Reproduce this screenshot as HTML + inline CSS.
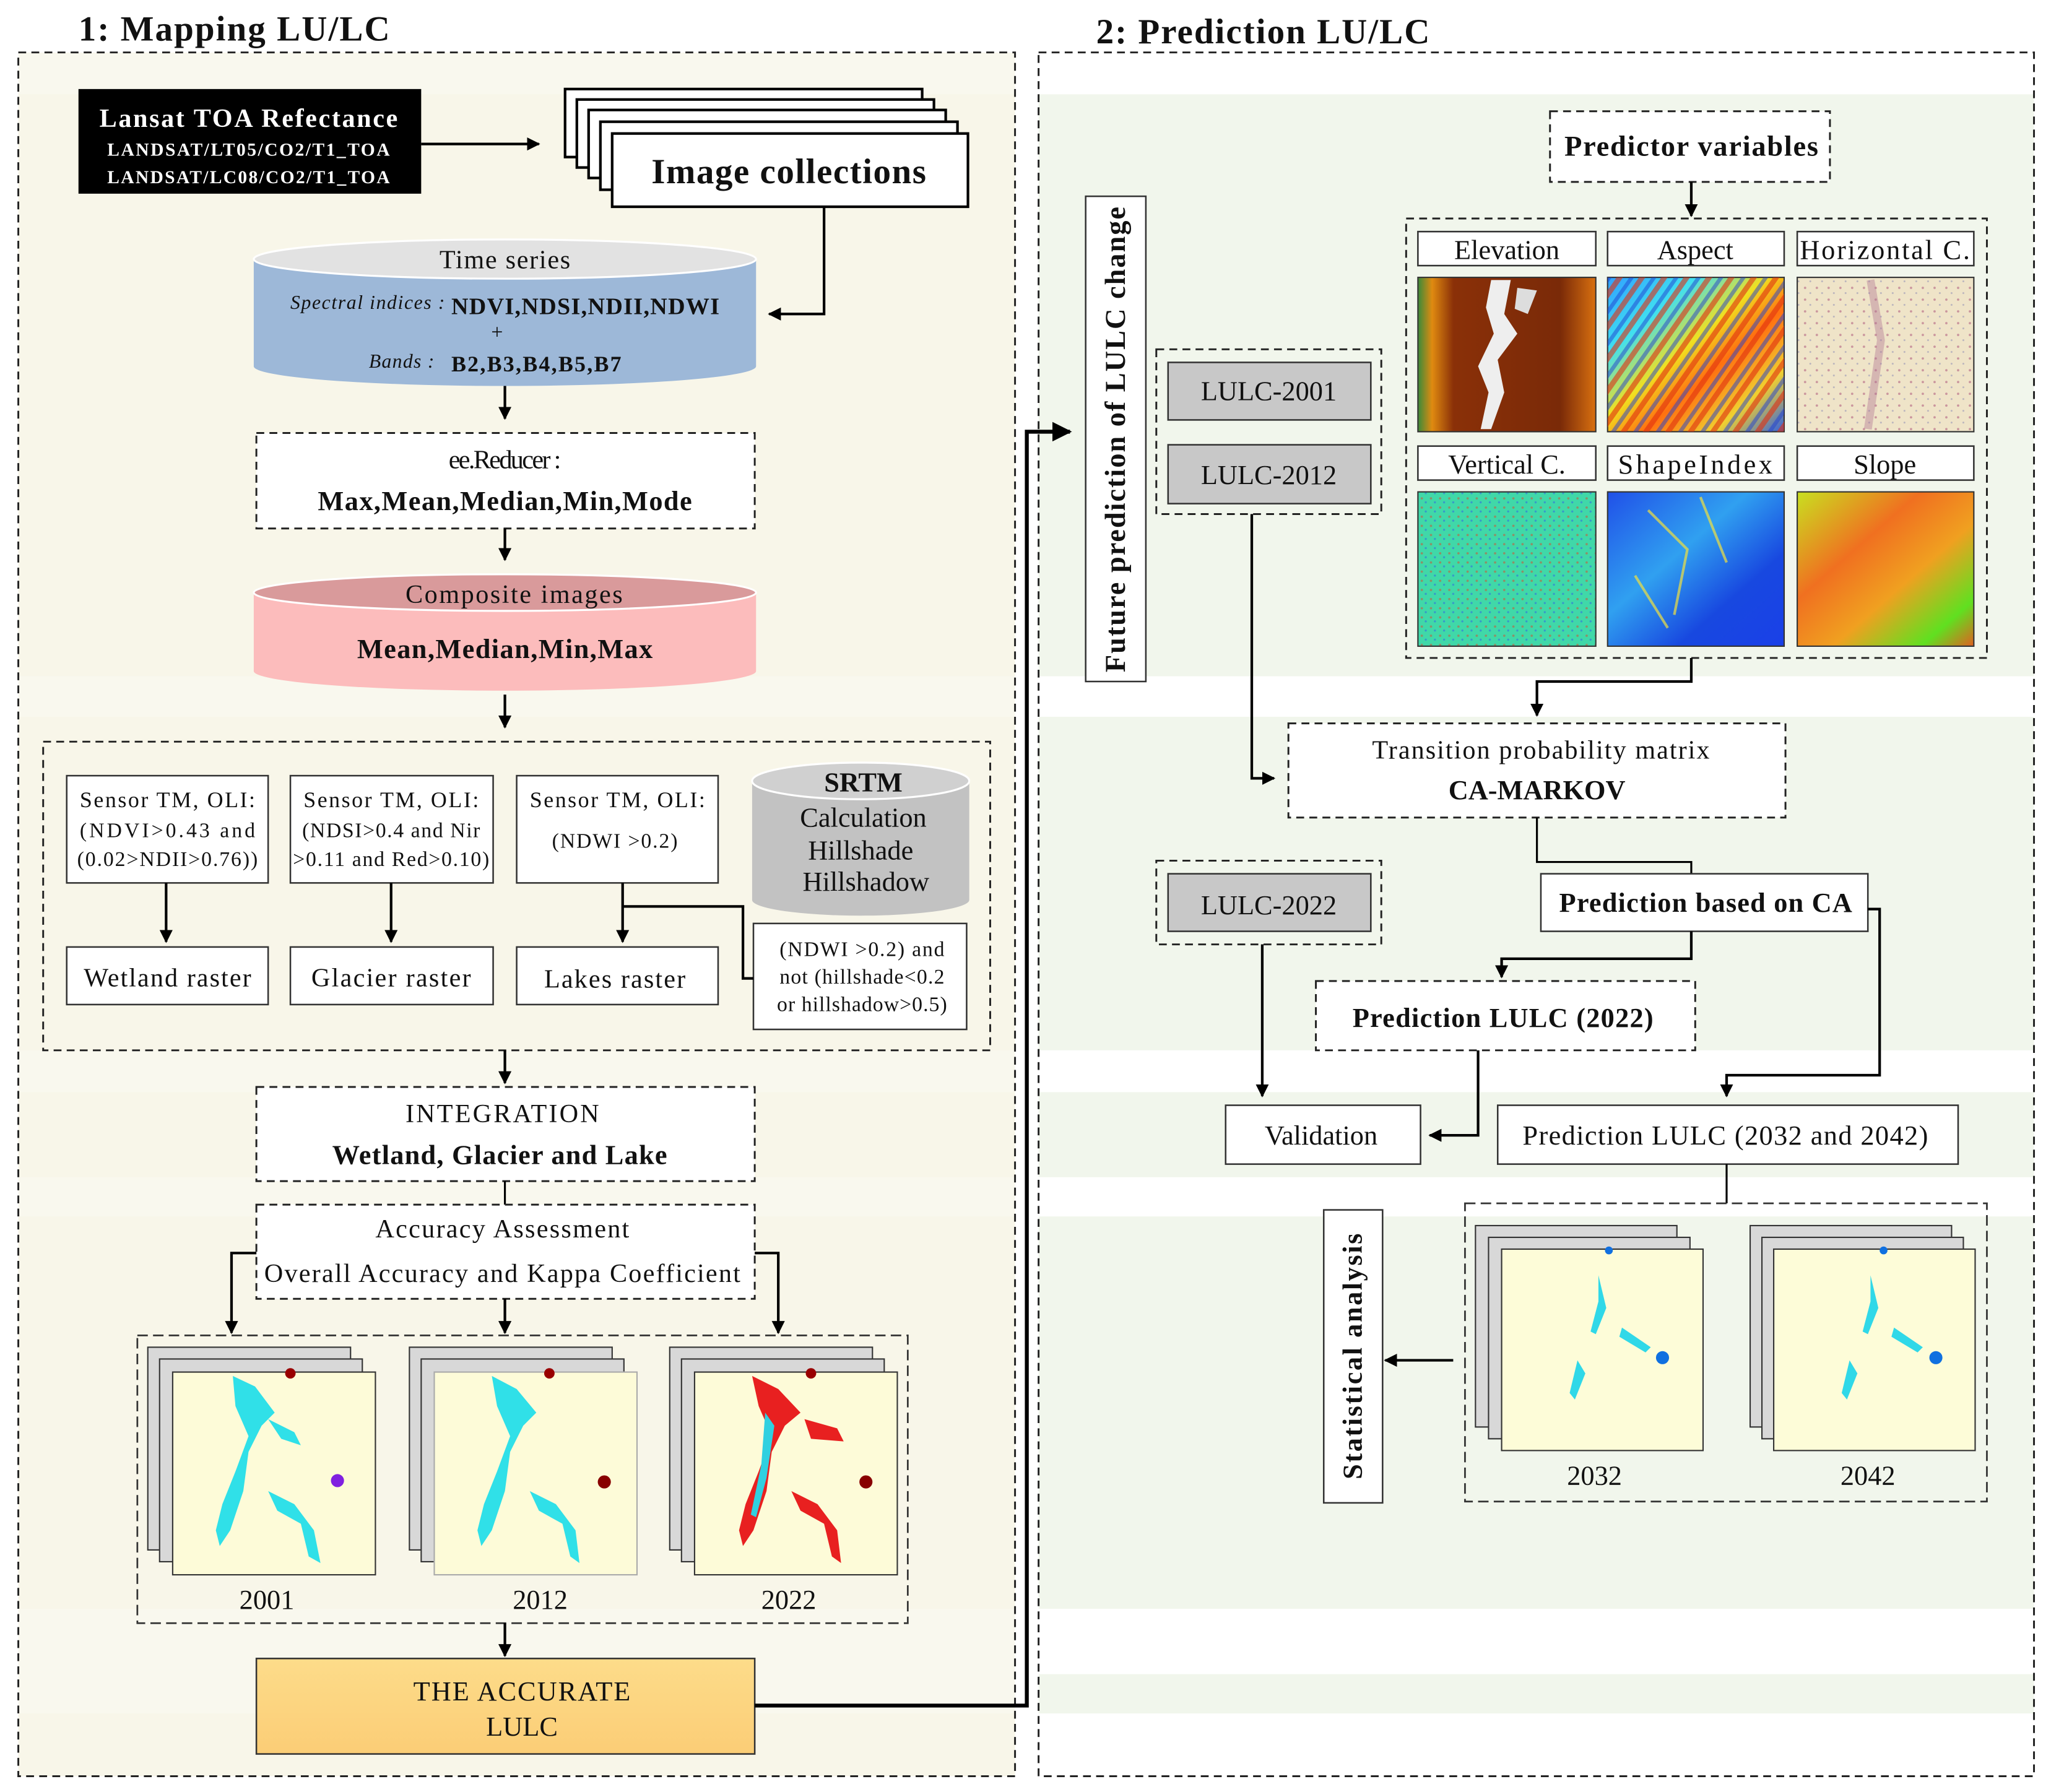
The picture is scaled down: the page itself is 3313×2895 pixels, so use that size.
<!DOCTYPE html>
<html><head><meta charset="utf-8"><style>
html,body{margin:0;padding:0;background:#fff}
svg{display:block}
text{font-family:"Liberation Serif",serif;fill:#111}
.b{font-weight:bold}
</style></head><body>
<svg width="3313" height="2895" viewBox="0 0 1568 1370" xmlns="http://www.w3.org/2000/svg">
<defs>
<marker id="ar" viewBox="0 0 10 10" refX="9" refY="5" markerWidth="5" markerHeight="5" orient="auto"><path d="M0,0L10,5L0,10z" fill="#000"/></marker>
<linearGradient id="org" x1="0" y1="0" x2="0" y2="1"><stop offset="0" stop-color="#fddc8a"/><stop offset="1" stop-color="#fbcd76"/></linearGradient>
<linearGradient id="elev" x1="0" y1="0" x2="1" y2="0"><stop offset="0" stop-color="#3a8a3a"/><stop offset="0.08" stop-color="#e08a10"/><stop offset="0.2" stop-color="#8a3008"/><stop offset="0.8" stop-color="#7a2a08"/><stop offset="1" stop-color="#d87010"/></linearGradient>
<linearGradient id="asp" x1="0" y1="0" x2="1" y2="1"><stop offset="0" stop-color="#30a0ff"/><stop offset="0.25" stop-color="#40e0f0"/><stop offset="0.45" stop-color="#f0e020"/><stop offset="0.6" stop-color="#ff7010"/><stop offset="0.8" stop-color="#f0d030"/><stop offset="1" stop-color="#3060e0"/></linearGradient>
<pattern id="stripes" width="14" height="14" patternUnits="userSpaceOnUse" patternTransform="rotate(35)"><rect width="14" height="14" fill="none"/><rect width="4" height="14" fill="#e03010" opacity="0.6"/><rect x="8" width="3" height="14" fill="#2040d0" opacity="0.5"/></pattern>
<pattern id="specks" width="9" height="9" patternUnits="userSpaceOnUse"><rect width="9" height="9" fill="#efe4c8"/><circle cx="3" cy="4" r="0.9" fill="#b06080" opacity="0.6"/><circle cx="7" cy="8" r="0.7" fill="#8080b0" opacity="0.5"/></pattern>
<pattern id="vspecks" width="7" height="7" patternUnits="userSpaceOnUse"><rect width="7" height="7" fill="#40d8a8"/><circle cx="2" cy="3" r="0.9" fill="#c06040" opacity="0.6"/><circle cx="5" cy="6" r="0.8" fill="#3070e0" opacity="0.6"/></pattern>
<linearGradient id="shp" x1="0" y1="0" x2="1" y2="1"><stop offset="0" stop-color="#2050e8"/><stop offset="0.4" stop-color="#30a0f0"/><stop offset="0.7" stop-color="#1848e0"/><stop offset="1" stop-color="#1a40e8"/></linearGradient>
<linearGradient id="slp" x1="0" y1="0" x2="1" y2="1"><stop offset="0" stop-color="#c8e020"/><stop offset="0.35" stop-color="#f07020"/><stop offset="0.6" stop-color="#f0a020"/><stop offset="0.85" stop-color="#60e020"/><stop offset="1" stop-color="#e06020"/></linearGradient>
</defs>

<text x="60" y="31" font-size="27" class="b" textLength="238">1: Mapping LU/LC</text>
<text x="838" y="33" font-size="27" class="b" textLength="255">2: Prediction LU/LC</text>

<rect x="14" y="40" width="762" height="1318" fill="#f9f8ee"/>
<rect x="14" y="72" width="762" height="445" fill="#f8f6e9"/>
<rect x="14" y="548" width="762" height="255" fill="#f8f6e9"/>
<rect x="14" y="835" width="762" height="65" fill="#f8f6e9"/>
<rect x="14" y="930" width="762" height="300" fill="#f8f6e9"/>
<rect x="14" y="1310" width="762" height="48" fill="#f8f6e9"/>
<rect x="14" y="40" width="762" height="1318" fill="none" stroke="#222" stroke-width="1.4" stroke-dasharray="6,4"/>

<rect x="794" y="40" width="761" height="1318" fill="#fff"/>
<rect x="794" y="72" width="761" height="445" fill="#f1f6ec"/>
<rect x="794" y="548" width="761" height="255" fill="#f1f6ec"/>
<rect x="794" y="835" width="761" height="65" fill="#f1f6ec"/>
<rect x="794" y="930" width="761" height="300" fill="#f1f6ec"/>
<rect x="794" y="1280" width="761" height="30" fill="#f1f6ec"/>
<rect x="794" y="40" width="761" height="1318" fill="none" stroke="#222" stroke-width="1.4" stroke-dasharray="6,4"/>

<rect x="60" y="68" width="262" height="80" fill="#000"/>
<text x="190" y="97" font-size="20" class="b" text-anchor="middle" style="fill:#fff" textLength="228">Lansat TOA Refectance</text>
<text x="190" y="119" font-size="14" class="b" text-anchor="middle" style="fill:#fff" textLength="216">LANDSAT/LT05/CO2/T1_TOA</text>
<text x="190" y="140" font-size="14" class="b" text-anchor="middle" style="fill:#fff" textLength="216">LANDSAT/LC08/CO2/T1_TOA</text>
<line x1="322" y1="110" x2="412" y2="110" stroke="#000" stroke-width="2" marker-end="url(#ar)"/>

<g fill="#fff" stroke="#000" stroke-width="2">
<rect x="432" y="68" width="273" height="52"/>
<rect x="441" y="76" width="273" height="52"/>
<rect x="450" y="84" width="273" height="52"/>
<rect x="459" y="93" width="273" height="52"/>
<rect x="468" y="102" width="272" height="56"/>
</g>
<text x="603" y="140" font-size="27" class="b" text-anchor="middle" textLength="210">Image collections</text>
<polyline points="630,158 630,240 588,240" fill="none" stroke="#000" stroke-width="2" marker-end="url(#ar)"/>

<path d="M194,198 L194,280 A192,15 0 0 0 578,280 L578,198 Z" fill="#9db8d8"/>
<ellipse cx="386" cy="198" rx="192" ry="15" fill="#e2e2e2" stroke="#fff" stroke-width="1.5"/>
<text x="386" y="205" font-size="20" text-anchor="middle" textLength="100">Time series</text>
<text x="222" y="236" font-size="15" font-style="italic" textLength="118">Spectral indices :</text>
<text x="345" y="240" font-size="18" class="b" textLength="205">NDVI,NDSI,NDII,NDWI</text>
<text x="380" y="259" font-size="16" text-anchor="middle">+</text>
<text x="282" y="281" font-size="15" font-style="italic" textLength="50">Bands :</text>
<text x="345" y="284" font-size="17" class="b" textLength="130">B2,B3,B4,B5,B7</text>
<line x1="386" y1="295" x2="386" y2="320" stroke="#000" stroke-width="2" marker-end="url(#ar)"/>

<rect x="196" y="331" width="381" height="73" fill="#fff" stroke="#222" stroke-width="1.4" stroke-dasharray="6,4"/>
<text x="386" y="358" font-size="20" text-anchor="middle" textLength="86">ee.Reducer :</text>
<text x="386" y="390" font-size="21" class="b" text-anchor="middle" textLength="286">Max,Mean,Median,Min,Mode</text>
<line x1="386" y1="404" x2="386" y2="428" stroke="#000" stroke-width="2" marker-end="url(#ar)"/>

<path d="M194,453 L194,513 A192,15 0 0 0 578,513 L578,453 Z" fill="#fcbcbc"/>
<ellipse cx="386" cy="453" rx="192" ry="14" fill="#d99a9b" stroke="#fff" stroke-width="1.5"/>
<text x="393" y="461" font-size="20" text-anchor="middle" textLength="166">Composite images</text>
<text x="386" y="503" font-size="21" class="b" text-anchor="middle" textLength="226">Mean,Median,Min,Max</text>
<line x1="386" y1="531" x2="386" y2="556" stroke="#000" stroke-width="2" marker-end="url(#ar)"/>

<rect x="33" y="567" width="724" height="236" fill="none" stroke="#222" stroke-width="1.4" stroke-dasharray="6,4"/>
<g fill="#fff" stroke="#333" stroke-width="1.2">
<rect x="51" y="593" width="154" height="82"/>
<rect x="222" y="593" width="155" height="82"/>
<rect x="395" y="593" width="154" height="82"/>
<rect x="51" y="724" width="154" height="44"/>
<rect x="222" y="724" width="155" height="44"/>
<rect x="395" y="724" width="154" height="44"/>
<rect x="576" y="706" width="163" height="81"/>
</g>
<text x="128" y="617" font-size="17" text-anchor="middle" textLength="134">Sensor TM, OLI:</text>
<text x="128" y="640" font-size="16" text-anchor="middle" textLength="134">(NDVI&gt;0.43 and</text>
<text x="128" y="662" font-size="16" text-anchor="middle" textLength="138">(0.02&gt;NDII&gt;0.76))</text>
<text x="299" y="617" font-size="17" text-anchor="middle" textLength="134">Sensor TM, OLI:</text>
<text x="299" y="640" font-size="16" text-anchor="middle" textLength="136">(NDSI&gt;0.4 and Nir</text>
<text x="299" y="662" font-size="16" text-anchor="middle" textLength="150">&gt;0.11 and Red&gt;0.10)</text>
<text x="472" y="617" font-size="17" text-anchor="middle" textLength="134">Sensor TM, OLI:</text>
<text x="470" y="648" font-size="16" text-anchor="middle" textLength="96">(NDWI &gt;0.2)</text>
<path d="M575,597 L575,688 A83,12 0 0 0 741,688 L741,597 Z" fill="#c2c2c2"/>
<ellipse cx="658" cy="597" rx="83" ry="14" fill="#d0d0d0" stroke="#fff" stroke-width="1.5"/>
<text x="660" y="605" font-size="21" class="b" text-anchor="middle">SRTM</text>
<text x="660" y="632" font-size="21" text-anchor="middle">Calculation</text>
<text x="658" y="657" font-size="21" text-anchor="middle">Hillshade</text>
<text x="662" y="681" font-size="21" text-anchor="middle">Hillshadow</text>
<g stroke="#000" stroke-width="2" fill="none">
<line x1="127" y1="675" x2="127" y2="720" marker-end="url(#ar)"/>
<line x1="299" y1="675" x2="299" y2="720" marker-end="url(#ar)"/>
<line x1="476" y1="675" x2="476" y2="720" marker-end="url(#ar)"/>
<polyline points="476,693 568,693 568,748 576,748"/>
</g>
<text x="128" y="754" font-size="20" text-anchor="middle" textLength="128">Wetland raster</text>
<text x="299" y="754" font-size="20" text-anchor="middle" textLength="122">Glacier raster</text>
<text x="470" y="755" font-size="20" text-anchor="middle" textLength="108">Lakes raster</text>
<text x="659" y="731" font-size="16" text-anchor="middle" textLength="126">(NDWI &gt;0.2) and</text>
<text x="659" y="752" font-size="16" text-anchor="middle" textLength="126">not (hillshade&lt;0.2</text>
<text x="659" y="773" font-size="16" text-anchor="middle" textLength="130">or hillshadow&gt;0.5)</text>
<line x1="386" y1="803" x2="386" y2="828" stroke="#000" stroke-width="2" marker-end="url(#ar)"/>

<rect x="196" y="831" width="381" height="72" fill="#fff" stroke="#222" stroke-width="1.4" stroke-dasharray="6,4"/>
<text x="384" y="858" font-size="20" text-anchor="middle" textLength="148">INTEGRATION</text>
<text x="382" y="890" font-size="21" class="b" text-anchor="middle" textLength="256">Wetland, Glacier and Lake</text>
<line x1="386" y1="903" x2="386" y2="921" stroke="#000" stroke-width="1.5"/>
<rect x="196" y="921" width="381" height="72" fill="#fff" stroke="#222" stroke-width="1.4" stroke-dasharray="6,4"/>
<text x="384" y="946" font-size="20" text-anchor="middle" textLength="194">Accuracy Assessment</text>
<text x="384" y="980" font-size="20" text-anchor="middle" textLength="364">Overall Accuracy and Kappa Coefficient</text>
<g stroke="#000" stroke-width="2" fill="none">
<polyline points="196,958 177,958 177,1019" marker-end="url(#ar)"/>
<line x1="386" y1="993" x2="386" y2="1019" marker-end="url(#ar)"/>
<polyline points="577,958 595,958 595,1019" marker-end="url(#ar)"/>
</g>

<rect x="105" y="1021" width="589" height="220" fill="none" stroke="#333" stroke-width="1.3" stroke-dasharray="8,4"/>
<g stroke="#333" stroke-width="1">
<rect x="113" y="1030" width="155" height="155" fill="#d8d8d8"/>
<rect x="122" y="1039" width="155" height="155" fill="#d8d8d8"/>
<rect x="132" y="1049" width="155" height="155" fill="#fdfbd8"/>
<rect x="313" y="1030" width="155" height="155" fill="#d8d8d8"/>
<rect x="322" y="1039" width="155" height="155" fill="#d8d8d8"/>
<rect x="332" y="1049" width="155" height="155" fill="#fdfbd8" stroke="#aaa"/>
<rect x="512" y="1030" width="155" height="155" fill="#d8d8d8"/>
<rect x="521" y="1039" width="155" height="155" fill="#d8d8d8"/>
<rect x="531" y="1049" width="155" height="155" fill="#fdfbd8"/>
</g>
<g stroke="none">
<path d="M178,1052 L195,1060 L210,1080 L200,1090 L190,1110 L186,1140 L176,1170 L168,1182 L165,1170 L170,1150 L180,1125 L190,1098 L180,1075 Z" fill="#30e0e8"/>
<path d="M205,1085 L225,1095 L230,1105 L215,1100 Z" fill="#30e0e8"/>
<path d="M205,1140 L225,1150 L240,1170 L245,1195 L236,1190 L230,1165 L212,1155 Z" fill="#30e0e8"/>
<circle cx="258" cy="1132" r="5" fill="#8020e0"/><circle cx="222" cy="1050" r="4" fill="#900"/>
<path d="M376,1052 L395,1062 L410,1080 L400,1090 L390,1110 L386,1140 L376,1170 L368,1182 L365,1170 L370,1150 L380,1125 L390,1098 L380,1075 Z" fill="#30e0e8"/>
<path d="M405,1140 L425,1150 L440,1170 L443,1195 L436,1190 L430,1165 L412,1155 Z" fill="#30e0e8"/>
<circle cx="462" cy="1133" r="5" fill="#800"/><circle cx="420" cy="1050" r="4" fill="#900"/>
<path d="M575,1052 L595,1062 L612,1080 L600,1090 L590,1110 L586,1140 L576,1170 L568,1182 L565,1170 L570,1150 L580,1125 L590,1098 L580,1075 Z" fill="#e82020"/>
<path d="M615,1085 L640,1092 L645,1102 L620,1100 Z" fill="#e82020"/>
<path d="M585,1080 L592,1090 L586,1130 L578,1160 L574,1158 L582,1120 Z" fill="#30d0e0"/>
<path d="M605,1140 L625,1150 L640,1170 L643,1195 L636,1190 L630,1165 L612,1155 Z" fill="#e82020"/>
<circle cx="662" cy="1133" r="5" fill="#800"/><circle cx="620" cy="1050" r="4" fill="#900"/>
</g>
<text x="204" y="1230" font-size="21" text-anchor="middle">2001</text>
<text x="413" y="1230" font-size="21" text-anchor="middle">2012</text>
<text x="603" y="1230" font-size="21" text-anchor="middle">2022</text>
<line x1="386" y1="1241" x2="386" y2="1266" stroke="#000" stroke-width="2" marker-end="url(#ar)"/>

<rect x="196" y="1268" width="381" height="73" fill="url(#org)" stroke="#333" stroke-width="1.2"/>
<text x="399" y="1300" font-size="21" text-anchor="middle" textLength="166">THE ACCURATE</text>
<text x="399" y="1327" font-size="21" text-anchor="middle">LULC</text>
<polyline points="577,1304 785,1304 785,330 818,330" fill="none" stroke="#000" stroke-width="3" marker-end="url(#ar)"/>

<rect x="830" y="150" width="46" height="371" fill="#fff" stroke="#333" stroke-width="1.2"/>
<text transform="translate(860,336) rotate(-90)" font-size="22" class="b" text-anchor="middle" textLength="356">Future prediction of LULC change</text>

<rect x="1185" y="85" width="214" height="54" fill="#fff" stroke="#222" stroke-width="1.4" stroke-dasharray="6,4"/>
<text x="1293" y="119" font-size="22" class="b" text-anchor="middle" textLength="194">Predictor variables</text>
<line x1="1293" y1="139" x2="1293" y2="165" stroke="#000" stroke-width="2" marker-end="url(#ar)"/>
<rect x="1075" y="167" width="444" height="336" fill="none" stroke="#222" stroke-width="1.4" stroke-dasharray="6,4"/>
<g fill="#fff" stroke="#333" stroke-width="1.2">
<rect x="1084" y="177" width="136" height="26"/><rect x="1229" y="177" width="135" height="26"/><rect x="1374" y="177" width="135" height="26"/>
<rect x="1084" y="341" width="136" height="26"/><rect x="1229" y="341" width="135" height="26"/><rect x="1374" y="341" width="135" height="26"/>
</g>
<text x="1152" y="198" font-size="21" text-anchor="middle">Elevation</text>
<text x="1296" y="198" font-size="21" text-anchor="middle">Aspect</text>
<text x="1441" y="198" font-size="21" text-anchor="middle" textLength="130">Horizontal C.</text>
<text x="1152" y="362" font-size="21" text-anchor="middle">Vertical C.</text>
<text x="1296" y="362" font-size="21" text-anchor="middle" textLength="118">ShapeIndex</text>
<text x="1441" y="362" font-size="21" text-anchor="middle">Slope</text>
<rect x="1084" y="212" width="136" height="118" fill="url(#elev)" stroke="#333"/>
<path d="M1140,214 L1155,214 L1150,240 L1160,255 L1145,275 L1150,300 L1140,328 L1132,328 L1138,300 L1130,280 L1142,255 L1136,235 Z" fill="#eee"/>
<path d="M1160,220 L1175,222 L1168,240 L1158,236 Z" fill="#ddd"/>
<rect x="1229" y="212" width="135" height="118" fill="url(#asp)" stroke="#333"/>
<rect x="1229" y="212" width="135" height="118" fill="url(#stripes)"/>
<rect x="1374" y="212" width="135" height="118" fill="url(#specks)" stroke="#333"/>
<path d="M1430,214 L1438,260 L1428,328" stroke="#b07090" stroke-width="6" fill="none" opacity="0.4"/>
<rect x="1084" y="376" width="136" height="118" fill="url(#vspecks)" stroke="#333"/>
<rect x="1229" y="376" width="135" height="118" fill="url(#shp)" stroke="#333"/>
<path d="M1260,390 L1290,420 L1280,470 M1300,380 L1320,430 M1250,440 L1275,480" stroke="#f0e040" stroke-width="2" fill="none" opacity="0.7"/>
<rect x="1374" y="376" width="135" height="118" fill="url(#slp)" stroke="#333"/>

<rect x="884" y="267" width="172" height="126" fill="none" stroke="#222" stroke-width="1.4" stroke-dasharray="6,4"/>
<rect x="893" y="277" width="155" height="44" fill="#c8c8c8" stroke="#333" stroke-width="1.2"/>
<rect x="893" y="340" width="155" height="45" fill="#c8c8c8" stroke="#333" stroke-width="1.2"/>
<text x="970" y="306" font-size="21" text-anchor="middle">LULC-2001</text>
<text x="970" y="370" font-size="21" text-anchor="middle">LULC-2012</text>
<polyline points="957,393 957,595 974,595" fill="none" stroke="#000" stroke-width="2" marker-end="url(#ar)"/>
<polyline points="1293,503 1293,521 1175,521 1175,547" fill="none" stroke="#000" stroke-width="2" marker-end="url(#ar)"/>

<rect x="985" y="553" width="380" height="72" fill="#fff" stroke="#222" stroke-width="1.4" stroke-dasharray="6,4"/>
<text x="1178" y="580" font-size="20" text-anchor="middle" textLength="258">Transition probability matrix</text>
<text x="1175" y="611" font-size="21" class="b" text-anchor="middle">CA-MARKOV</text>
<polyline points="1175,625 1175,659 1293,659 1293,668" fill="none" stroke="#000" stroke-width="1.5"/>
<rect x="1178" y="668" width="250" height="44" fill="#fff" stroke="#333" stroke-width="1.2"/>
<text x="1304" y="697" font-size="21" class="b" text-anchor="middle" textLength="224">Prediction based on CA</text>
<polyline points="1293,712 1293,733 1148,733 1148,747" fill="none" stroke="#000" stroke-width="2" marker-end="url(#ar)"/>
<polyline points="1428,695 1437,695 1437,822 1320,822 1320,838" fill="none" stroke="#000" stroke-width="2" marker-end="url(#ar)"/>

<rect x="884" y="658" width="172" height="64" fill="none" stroke="#222" stroke-width="1.4" stroke-dasharray="6,4"/>
<rect x="893" y="668" width="155" height="44" fill="#c8c8c8" stroke="#333" stroke-width="1.2"/>
<text x="970" y="699" font-size="21" text-anchor="middle">LULC-2022</text>
<line x1="965" y1="722" x2="965" y2="838" stroke="#000" stroke-width="2" marker-end="url(#ar)"/>

<rect x="1006" y="750" width="290" height="53" fill="#fff" stroke="#222" stroke-width="1.4" stroke-dasharray="6,4"/>
<text x="1149" y="785" font-size="21" class="b" text-anchor="middle" textLength="230">Prediction LULC (2022)</text>
<polyline points="1130,803 1130,868 1093,868" fill="none" stroke="#000" stroke-width="2" marker-end="url(#ar)"/>

<rect x="937" y="845" width="149" height="45" fill="#fff" stroke="#333" stroke-width="1.2"/>
<text x="1010" y="875" font-size="21" text-anchor="middle">Validation</text>
<rect x="1145" y="845" width="352" height="45" fill="#fff" stroke="#333" stroke-width="1.2"/>
<text x="1319" y="875" font-size="21" text-anchor="middle" textLength="310">Prediction LULC (2032 and 2042)</text>
<line x1="1320" y1="890" x2="1320" y2="920" stroke="#000" stroke-width="1.5"/>

<rect x="1120" y="920" width="399" height="228" fill="none" stroke="#333" stroke-width="1.3" stroke-dasharray="8,4"/>
<g stroke="#333" stroke-width="1">
<rect x="1128" y="937" width="154" height="154" fill="#d8d8d8"/>
<rect x="1138" y="946" width="154" height="154" fill="#d8d8d8"/>
<rect x="1148" y="955" width="154" height="154" fill="#fdfcd8"/>
<rect x="1338" y="937" width="154" height="154" fill="#d8d8d8"/>
<rect x="1347" y="946" width="154" height="154" fill="#d8d8d8"/>
<rect x="1356" y="955" width="154" height="154" fill="#fdfcd8"/>
</g>
<g fill="#30d8e8">
<path d="M1222,975 L1228,1000 L1220,1020 L1216,1018 L1222,995 Z"/>
<path d="M1206,1040 L1212,1050 L1204,1070 L1200,1065 Z"/>
<path d="M1240,1015 L1262,1030 L1258,1034 L1238,1022 Z"/>
<path d="M1430,975 L1436,1000 L1428,1020 L1424,1018 L1430,995 Z"/>
<path d="M1414,1040 L1420,1050 L1412,1070 L1408,1065 Z"/>
<path d="M1448,1015 L1470,1030 L1466,1034 L1446,1022 Z"/>
</g>
<circle cx="1271" cy="1038" r="5" fill="#1070e0"/><circle cx="1230" cy="956" r="3" fill="#1070e0"/>
<circle cx="1480" cy="1038" r="5" fill="#1070e0"/><circle cx="1440" cy="956" r="3" fill="#1070e0"/>
<text x="1219" y="1135" font-size="21" text-anchor="middle">2032</text>
<text x="1428" y="1135" font-size="21" text-anchor="middle">2042</text>
<line x1="1111" y1="1040" x2="1059" y2="1040" stroke="#000" stroke-width="2" marker-end="url(#ar)"/>
<rect x="1012" y="925" width="45" height="224" fill="#fff" stroke="#333" stroke-width="1.2"/>
<text transform="translate(1041,1037) rotate(-90)" font-size="21" class="b" text-anchor="middle" textLength="188">Statistical analysis</text>
</svg>
</body></html>
